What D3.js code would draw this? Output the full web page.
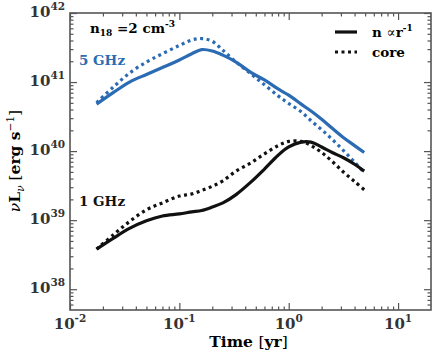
<!DOCTYPE html>
<html>
<head>
<meta charset="utf-8">
<script src="https://cdn.jsdelivr.net/npm/d3@7"></script>
<style>
  body { margin: 0; background: #fff; }
  text { font-family: "DejaVu Serif", serif; }
</style>
</head>
<body>
<svg id="fig" width="436" height="357"></svg>
<script>
// time in yr
const times = [0.0175, 0.025, 0.035, 0.05, 0.07, 0.1, 0.13, 0.16, 0.2, 0.25, 0.33,
  0.45, 0.6, 0.8, 1.0, 1.3, 1.6, 2.0, 2.5, 3.2, 4.0, 4.9];
// log10 of nu L_nu [erg/s]
const log5GHzWind = [40.68, 40.85, 41.0, 41.11, 41.21, 41.32, 41.41, 41.47, 41.45, 41.39, 41.29,
  41.14, 41.03, 40.9, 40.81, 40.68, 40.58, 40.46, 40.33, 40.19, 40.08, 39.98];
const log5GHzCore = [40.7, 40.93, 41.13, 41.29, 41.41, 41.53, 41.61, 41.63, 41.59, 41.46, 41.29,
  41.12, 40.96, 40.8, 40.69, 40.57, 40.44, 40.31, 40.17, 40.0, 39.84, 39.69];
const log1GHzWind = [38.58, 38.74, 38.88, 38.99, 39.06, 39.09, 39.12, 39.14, 39.19, 39.25, 39.37,
  39.55, 39.74, 39.94, 40.06, 40.13, 40.13, 40.06, 39.98, 39.9, 39.81, 39.71];
const log1GHzCore = [38.58, 38.79, 38.98, 39.15, 39.25, 39.35, 39.38, 39.43, 39.49, 39.57, 39.71,
  39.83, 39.96, 40.08, 40.14, 40.14, 40.08, 39.98, 39.85, 39.69, 39.56, 39.44];

const xMajor = [0.01, 0.1, 1, 10];
const xMajorExp = ["-2", "-1", "0", "1"];
const yMajor = [1e38, 1e39, 1e40, 1e41, 1e42];
const yMajorExp = ["38", "39", "40", "41", "42"];

const blue = "#2b6bb3";
const black = "#111";

const margin = { top: 13, right: 5, bottom: 47, left: 70 },
  width = 436 - margin.left - margin.right,
  height = 357 - margin.top - margin.bottom;

const svg = d3.select("#fig");
const g = svg.append("g").attr("transform", "translate(" + margin.left + "," + margin.top + ")");

const x = d3.scaleLog().domain([0.01, 20]).range([0, width]);
const y = d3.scaleLog().domain([5e37, 1e42]).range([height, 0]);

// minor ticks 2..9 of each decade
const xMinor = [];
[0.01, 0.1, 1, 10].forEach((d) => { for (let k = 2; k <= 9; k++) { if (d * k < 20) xMinor.push(d * k); } });
const yMinor = [];
[1e37, 1e38, 1e39, 1e40, 1e41].forEach((d) => { for (let k = 2; k <= 9; k++) { const v = d * k; if (v > 5e37 && v < 1e42) yMinor.push(v); } });

const axisColor = "#555";
function styleAxis(sel) {
  sel.select(".domain").remove();
  sel.selectAll("line").attr("stroke", axisColor).attr("stroke-width", 1.2);
  sel.selectAll("text").remove();
}

g.append("g").attr("transform", "translate(0," + height + ")")
  .call(d3.axisBottom(x).tickValues(xMajor).tickSizeInner(-7).tickSizeOuter(0)).call(styleAxis);
g.append("g").attr("transform", "translate(0," + height + ")")
  .call(d3.axisBottom(x).tickValues(xMinor).tickSizeInner(-3.5).tickSizeOuter(0)).call(styleAxis);
g.append("g")
  .call(d3.axisTop(x).tickValues(xMajor).tickSizeInner(-7).tickSizeOuter(0)).call(styleAxis);
g.append("g")
  .call(d3.axisTop(x).tickValues(xMinor).tickSizeInner(-3.5).tickSizeOuter(0)).call(styleAxis);
g.append("g")
  .call(d3.axisLeft(y).tickValues(yMajor).tickSizeInner(-7).tickSizeOuter(0)).call(styleAxis);
g.append("g")
  .call(d3.axisLeft(y).tickValues(yMinor).tickSizeInner(-3.5).tickSizeOuter(0)).call(styleAxis);
g.append("g").attr("transform", "translate(" + width + ",0)")
  .call(d3.axisRight(y).tickValues(yMajor).tickSizeInner(-7).tickSizeOuter(0)).call(styleAxis);
g.append("g").attr("transform", "translate(" + width + ",0)")
  .call(d3.axisRight(y).tickValues(yMinor).tickSizeInner(-3.5).tickSizeOuter(0)).call(styleAxis);

g.append("rect")
  .attr("width", width).attr("height", height)
  .attr("fill", "none").attr("stroke", axisColor).attr("stroke-width", 1.6);

// tick labels 10^n
const labColor = "#333";
xMajor.forEach((d, i) => {
  const t = g.append("text")
    .attr("x", x(d)).attr("y", height + 19)
    .attr("text-anchor", "middle")
    .attr("fill", labColor).attr("font-weight", "bold").attr("font-size", 15);
  t.append("tspan").text("10");
  t.append("tspan").attr("dy", -7).attr("font-size", 10.5).text(xMajorExp[i]);
});
yMajor.forEach((d, i) => {
  const t = g.append("text")
    .attr("x", -5).attr("y", y(d) + 4)
    .attr("text-anchor", "end")
    .attr("fill", labColor).attr("font-weight", "bold").attr("font-size", 15);
  t.append("tspan").text("10");
  t.append("tspan").attr("dy", -7).attr("font-size", 10.5).text(yMajorExp[i]);
});

// axis titles
const xt = svg.append("text")
  .attr("x", margin.left + width / 2 - 2).attr("y", 347)
  .attr("text-anchor", "middle").attr("font-size", 15.5).attr("fill", "#000");
xt.append("tspan").attr("font-weight", "bold").text("Time ");
xt.append("tspan").text("[");
xt.append("tspan").attr("font-weight", "bold").text("yr");
xt.append("tspan").text("]");

const yt = svg.append("text")
  .attr("transform", "translate(20," + (margin.top + 148) + ") rotate(-90)")
  .attr("text-anchor", "middle").attr("font-size", 15.5).attr("fill", "#000");
yt.append("tspan").attr("font-style", "italic").text("ν");
yt.append("tspan").attr("font-weight", "bold").text("L");
yt.append("tspan").attr("font-style", "italic").attr("font-size", 10.5).attr("dy", 4).text("ν");
yt.append("tspan").attr("dy", -4).text(" [");
yt.append("tspan").attr("font-weight", "bold").text("erg s");
yt.append("tspan").attr("font-size", 10.5).attr("dy", -6).text("−1");
yt.append("tspan").attr("dy", 6).text("]");

// curves
const line = d3.line()
  .x((d) => x(d[0]))
  .y((d) => y(Math.pow(10, d[1])))
  .curve(d3.curveCatmullRom.alpha(0.5));

const series = [
  { vals: log5GHzWind, color: blue, dash: null },
  { vals: log5GHzCore, color: blue, dash: "3,3.5" },
  { vals: log1GHzWind, color: black, dash: null },
  { vals: log1GHzCore, color: black, dash: "3,3.5" },
];
series.forEach((s) => {
  g.append("path")
    .datum(times.map((t, i) => [t, s.vals[i]]))
    .attr("d", line)
    .attr("fill", "none")
    .attr("stroke", s.color)
    .attr("stroke-width", 3.2)
    .attr("stroke-dasharray", s.dash);
});

// annotations
const n18 = svg.append("text").attr("x", 90).attr("y", 33)
  .attr("font-weight", "bold").attr("font-size", 13.5).attr("fill", "#000");
n18.append("tspan").text("n");
n18.append("tspan").attr("font-size", 9).attr("dy", 3).text("18");
n18.append("tspan").attr("dy", -3).text(" =2 cm");
n18.append("tspan").attr("font-size", 9).attr("dy", -6).text("-3");

svg.append("text").attr("x", 79).attr("y", 65)
  .attr("font-weight", "bold").attr("font-size", 13.5).attr("fill", blue).text("5 GHz");
svg.append("text").attr("x", 79).attr("y", 206)
  .attr("font-weight", "bold").attr("font-size", 13.5).attr("fill", black).text("1 GHz");

// legend
const legend = svg.append("g").attr("transform", "translate(335,0)");
legend.append("line").attr("x1", 0).attr("x2", 22).attr("y1", 32).attr("y2", 32)
  .attr("stroke", black).attr("stroke-width", 3.2);
legend.append("line").attr("x1", 0).attr("x2", 22).attr("y1", 52).attr("y2", 52)
  .attr("stroke", black).attr("stroke-width", 3.2).attr("stroke-dasharray", "3,3.5");
const l1 = legend.append("text").attr("x", 37).attr("y", 37)
  .attr("font-weight", "bold").attr("font-size", 13.5).attr("fill", "#000");
l1.append("tspan").text("n ");
l1.append("tspan").attr("font-weight", "normal").text("∝");
l1.append("tspan").text("r");
l1.append("tspan").attr("font-size", 9).attr("dy", -6).text("-1");
legend.append("text").attr("x", 37).attr("y", 57)
  .attr("font-weight", "bold").attr("font-size", 13.5).attr("fill", "#000").text("core");
</script>
</body>
</html>
